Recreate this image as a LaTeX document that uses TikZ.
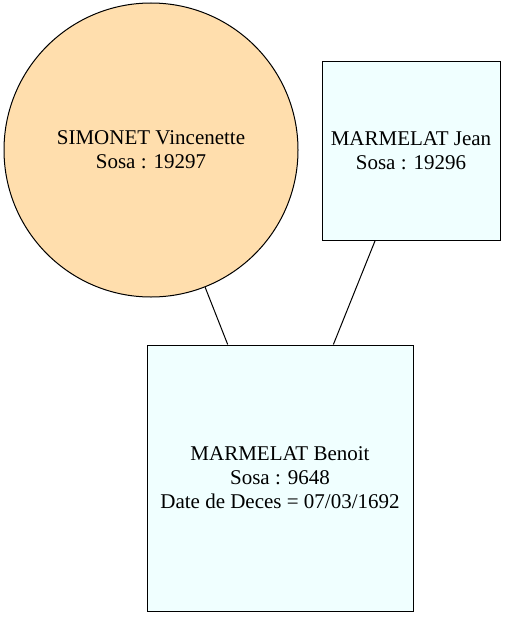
\documentclass[tikz,border=0pt]{standalone}
\usepackage{fontspec}
\setmainfont{Liberation Serif}
\usepackage{xcolor}
\usepackage{tikz}
\usetikzlibrary{shapes,arrows}
\definecolor{navajo}{HTML}{FFDEAD}
\definecolor{azurefill}{HTML}{F0FFFF}
\tikzstyle{woman} = [circle, draw, fill=navajo, line width=1pt,
    minimum size=294pt, inner sep=0pt, align=center]
\tikzstyle{man} = [rectangle, draw, fill=azurefill, line width=1pt,
    minimum size=178pt, inner sep=0pt, align=center]
\tikzstyle{bigman} = [man, minimum size=266pt]
\tikzstyle{line} = [draw, line width=1pt]

\begin{document}
\begin{tikzpicture}[x=1pt, y=-1pt, every node/.style={font=\fontsize{21}{24}\selectfont}]
			\useasboundingbox (0,0) rectangle (506,618);
			% Place nodes
			\node [woman] (vincenette) at (151,150) {SIMONET Vincenette\\Sosa : 19297};
			\node [man] (jean) at (411,151) {MARMELAT Jean\\Sosa : 19296};
			\node [bigman] (benoit) at (280,478) {MARMELAT Benoit\\Sosa : 9648\\Date de Deces = 07/03/1692};
			
			\path [line] (vincenette) -- (benoit);
			\path [line] (jean) -- (benoit);
	\end{tikzpicture}
\end{document}
